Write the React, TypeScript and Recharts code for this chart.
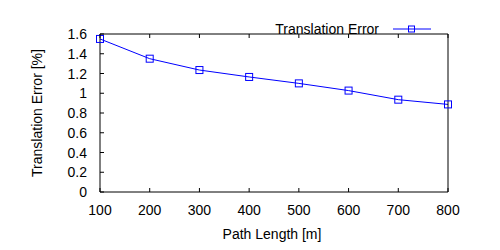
import React from 'react';
import { LineChart, Line, XAxis, YAxis, Legend, Label } from 'recharts';

const pathLengths = [100, 200, 300, 400, 500, 600, 700, 800];
const translationErrors = [1.55, 1.35, 1.235, 1.165, 1.1, 1.027, 0.935, 0.887];
const yTicks = [0, 0.2, 0.4, 0.6, 0.8, 1, 1.2, 1.4, 1.6];

const data = pathLengths.map((len, i) => ({ len, err: translationErrors[i] }));

const FONT = '"Liberation Sans", Arial, sans-serif';
const FS = 14;
const TICK = 4;

const BottomTick = (props: any) => {
  const { x, y, payload } = props;
  return (
    <g>
      <line x1={x} y1={y} x2={x} y2={y - TICK} stroke="#000" />
      <text x={x} y={y + 23} textAnchor="middle" fontSize={FS} fontFamily={FONT} fill="#000">
        {payload.value}
      </text>
    </g>
  );
};

const LeftTick = (props: any) => {
  const { x, y, payload } = props;
  return (
    <g>
      <line x1={x} y1={y} x2={x + TICK} y2={y} stroke="#000" />
      <text x={x - 13} y={y + 5} textAnchor="end" fontSize={FS} fontFamily={FONT} fill="#000">
        {String(+Number(payload.value).toFixed(1))}
      </text>
    </g>
  );
};

const TopTick = (props: any) => {
  const { x, y } = props;
  return <line x1={x} y1={y} x2={x} y2={y + TICK} stroke="#000" />;
};

const RightTick = (props: any) => {
  const { x, y } = props;
  return <line x1={x} y1={y} x2={x - TICK} y2={y} stroke="#000" />;
};

const Square = (props: any) => {
  const { cx, cy, index } = props;
  return <rect key={index} x={cx - 3.5} y={cy - 3.5} width={7} height={7} fill="none" stroke="#0000ff" strokeWidth={1} />;
};

const LegendBox = () => (
  <div style={{ display: 'flex', alignItems: 'center', height: 16, lineHeight: '16px', fontFamily: FONT, fontSize: FS, color: '#000' }}>
    <span style={{ width: 119, textAlign: 'right', whiteSpace: 'nowrap' }}>Translation Error</span>
    <svg width={40} height={12} style={{ marginLeft: 13, display: 'block' }}>
      <line x1={1} y1={6} x2={39} y2={6} stroke="#0000ff" />
      <rect x={16.5} y={3} width={6} height={6} fill="none" stroke="#0000ff" />
    </svg>
  </div>
);

export default function App() {
  return (
    <div style={{ position: 'absolute', left: 0, top: 0, background: '#fff' }}>
      <LineChart width={500} height={250} data={data} margin={{ top: 17, right: 51, left: 0, bottom: 0 }}>
        <XAxis
          xAxisId="bottom"
          dataKey="len"
          type="number"
          domain={[100, 800]}
          ticks={pathLengths}
          interval={0}
          height={58}
          tickSize={0}
          tickMargin={0}
          tickLine={false}
          axisLine={{ stroke: '#000' }}
          tick={<BottomTick />}
        >
          <Label
            content={(p: any) => (
              <text x={p.viewBox.x + p.viewBox.width / 2 - 2} y={p.viewBox.y + 47} textAnchor="middle" fontSize={FS} fontFamily={FONT} fill="#000">
                Path Length [m]
              </text>
            )}
          />
        </XAxis>
        <XAxis
          xAxisId="top"
          orientation="top"
          dataKey="len"
          type="number"
          domain={[100, 800]}
          ticks={pathLengths}
          interval={0}
          height={1}
          tickSize={0}
          tickMargin={0}
          tickLine={false}
          axisLine={{ stroke: '#000' }}
          tick={<TopTick />}
        />
        <YAxis
          yAxisId="left"
          type="number"
          domain={[0, 1.6]}
          ticks={yTicks}
          interval={0}
          width={100}
          tickSize={0}
          tickMargin={0}
          tickLine={false}
          axisLine={{ stroke: '#000' }}
          tick={<LeftTick />}
        >
          <Label
            content={(p: any) => {
              const cx = p.viewBox.x + 37;
              const cy = p.viewBox.y + p.viewBox.height / 2;
              return (
                <text x={cx} y={cy} transform={`rotate(-90 ${cx} ${cy})`} textAnchor="middle" dominantBaseline="central" fontSize={FS} fontFamily={FONT} fill="#000">
                  Translation Error [%]
                </text>
              );
            }}
          />
        </YAxis>
        <YAxis
          yAxisId="right"
          orientation="right"
          type="number"
          domain={[0, 1.6]}
          ticks={yTicks}
          interval={0}
          width={1}
          tickSize={0}
          tickMargin={0}
          tickLine={false}
          axisLine={{ stroke: '#000' }}
          tick={<RightTick />}
        />
        <Legend
          verticalAlign="top"
          wrapperStyle={{ position: 'absolute', top: 21, left: 260, width: 200, height: 16 }}
          content={() => <LegendBox />}
        />
        <Line
          xAxisId="bottom"
          yAxisId="left"
          dataKey="err"
          stroke="#0000ff"
          strokeWidth={1}
          dot={<Square />}
          activeDot={false}
          isAnimationActive={false}
        />
      </LineChart>
    </div>
  );
}
